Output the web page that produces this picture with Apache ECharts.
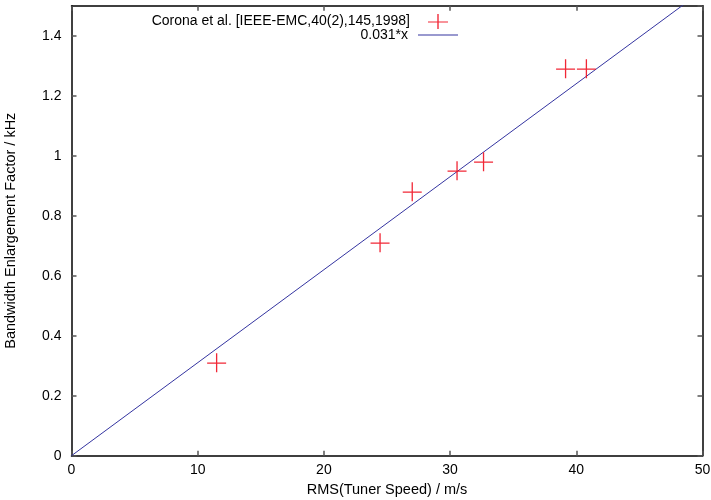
<!DOCTYPE html>
<html><head><meta charset="utf-8">
<script src="https://cdn.jsdelivr.net/npm/echarts@6/dist/echarts.min.js"></script>
<style>html,body{margin:0;padding:0;background:#fff}#c{width:711px;height:500px}</style>
</head><body><div id="c"></div>
<script>
const speedX = [11.5, 24.45, 27.0, 30.55, 32.65, 39.15, 40.8];
const factorY = [0.31, 0.71, 0.88, 0.95, 0.98, 1.29, 1.29];
const fitSlope = 0.031;
const fitRangeX = [0, 50];
const seriesNames = ['Corona et al. [IEEE-EMC,40(2),145,1998]', '0.031*x'];
const xTicks = [0, 10, 20, 30, 40, 50];
const yTicks = [0, 0.2, 0.4, 0.6, 0.8, 1, 1.2, 1.4];

const pts = speedX.map((x, i) => [x, factorY[i]]);
const fitLine = fitRangeX.map(x => [x, fitSlope * x]);
const FONT = 'Liberation Sans, Arial, sans-serif';
const crossPath = 'path://M0,9.35 L19,9.35 L19,10.65 L0,10.65 Z M8.85,0 L10.15,0 L10.15,19 L8.85,19 Z';
const linePath = 'path://M0,0 L40,0 L40,1.1 L0,1.1 Z';

const axisCommon = {
  axisLine: {show: true, onZero: false, lineStyle: {color: '#000', width: 1.5}},
  axisTick: {show: true, inside: true, length: 5, lineStyle: {color: '#555', width: 1.5}},
  splitLine: {show: false}
};
const chart = echarts.init(document.getElementById('c'));
chart.setOption({
  animation: false,
  backgroundColor: '#fff',
  grid: {left: 71.5, right: 8.5, top: 5.7, bottom: 44.3, containLabel: false, outerBoundsMode: 'none'},
  xAxis: [
    Object.assign({type: 'value', min: xTicks[0], max: xTicks[xTicks.length-1], interval: 10, position: 'bottom',
      name: 'RMS(Tuner Speed) / m/s', nameLocation: 'middle', nameGap: 27,
      nameTextStyle: {fontFamily: FONT, fontSize: 14.5, color: '#000'},
      axisLabel: {fontFamily: FONT, fontSize: 14, color: '#000', margin: 7}}, axisCommon),
    Object.assign({type: 'value', min: xTicks[0], max: xTicks[xTicks.length-1], interval: 10, position: 'top',
      axisLabel: {show: false}}, axisCommon)
  ],
  yAxis: [
    Object.assign({type: 'value', min: 0, max: 1.5, interval: 0.2, position: 'left',
      name: 'Bandwidth Enlargement Factor / kHz', nameLocation: 'middle', nameGap: 53,
      nameTextStyle: {fontFamily: FONT, fontSize: 14.5, color: '#000'},
      axisLabel: {fontFamily: FONT, fontSize: 14, color: '#000', margin: 10, showMaxLabel: false,
        formatter: v => yTicks.some(t => Math.abs(t - v) < 1e-9) ? String(Math.round(v*10)/10) : ''}}, axisCommon),
    Object.assign({type: 'value', min: 0, max: 1.5, interval: 0.2, position: 'right',
      axisLabel: {show: false}}, axisCommon)
  ],
  legend: [
    {data: [{name: seriesNames[0], icon: crossPath}], right: 263, top: 14, align: 'right', itemWidth: 20, itemHeight: 15,
      symbolKeepAspect: false,
      itemGap: 0, padding: 0, textStyle: {fontFamily: FONT, fontSize: 14, color: '#000', padding: [0, 13, 0, 0]}},
    {data: [{name: seriesNames[1], icon: linePath}], right: 253, top: 28, align: 'right', itemWidth: 40, itemHeight: 1.1,
      symbolKeepAspect: false,
      itemGap: 0, padding: 0, textStyle: {fontFamily: FONT, fontSize: 14, color: '#000', padding: [2, 5, 0, 0]}}
  ],
  series: [
    {name: seriesNames[1], type: 'line', data: fitLine, showSymbol: false, symbol: 'none', clip: true,
      lineStyle: {color: '#3434a0', width: 1}, itemStyle: {color: '#3434a0'}, z: 2},
    {name: seriesNames[0], type: 'scatter', data: pts, symbol: crossPath, symbolSize: 19,
      itemStyle: {color: '#f01020', opacity: 0.9}, z: 3}
  ]
});
</script></body></html>
